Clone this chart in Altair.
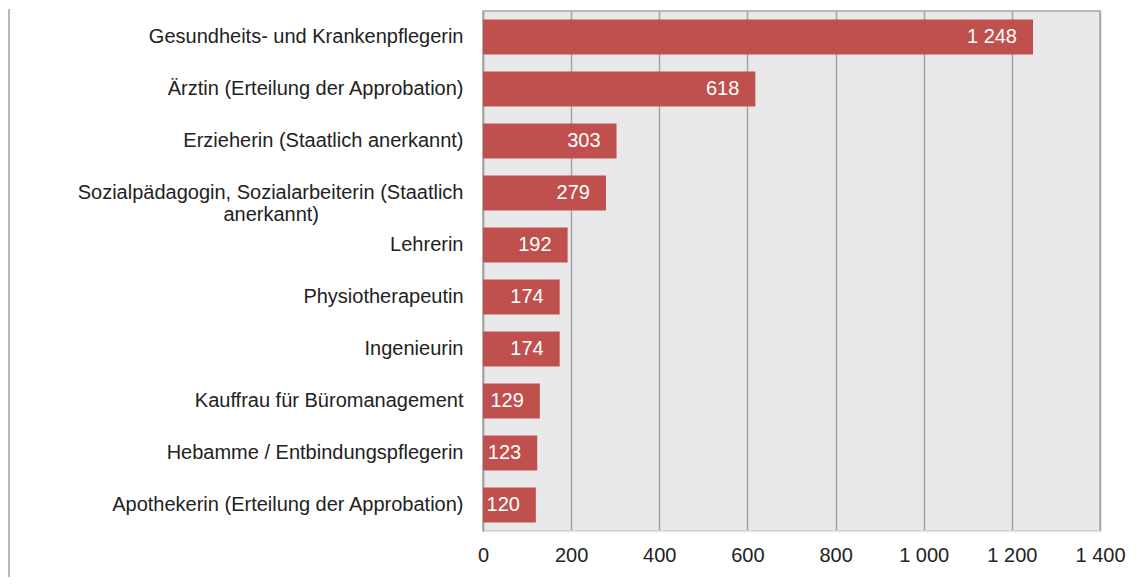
import altair as alt
import pandas as pd

categories = [
    "Gesundheits- und Krankenpflegerin",
    "Ärztin (Erteilung der Approbation)",
    "Erzieherin (Staatlich anerkannt)",
    "Sozialpädagogin, Sozialarbeiterin (Staatlich anerkannt)",
    "Lehrerin",
    "Physiotherapeutin",
    "Ingenieurin",
    "Kauffrau für Büromanagement",
    "Hebamme / Entbindungspflegerin",
    "Apothekerin (Erteilung der Approbation)",
]
values = [1248, 618, 303, 279, 192, 174, 174, 129, 123, 120]
x_ticks = [0, 200, 400, 600, 800, 1000, 1200, 1400]

df = pd.DataFrame({"beruf": categories, "anzahl": values})
df["label"] = [f"{v:,}".replace(",", " ") for v in values]

W, H = 617, 520
BG = "#e9e9eb"
GRID = "#a6a6a6"
BAR = "#c0504d"
TXT = "#222222"
FONT = "Liberation Sans"

# long labels wrap at their last space; the second line is centred under the first
pad = "\u00a0" * 26 + "\u200b"
y_label_expr = (
    "length(datum.value) > 45 ? "
    "[substring(datum.value, 0, lastindexof(datum.value, ' ')), "
    "substring(datum.value, lastindexof(datum.value, ' ') + 1) + '" + pad + "'] : datum.value"
)

y_enc = alt.Y(
    "beruf:N",
    sort=categories,
    scale=alt.Scale(paddingInner=0.33, paddingOuter=0.165),
    axis=alt.Axis(
        title=None,
        ticks=False,
        domainColor=GRID,
        domainWidth=1.5,
        grid=False,
        labelExpr=y_label_expr,
        labelAlign="right",
        labelPadding=20,
        labelFont=FONT,
        labelFontSize=20,
        labelColor=TXT,
        labelLimit=0,
    ),
)

x_enc = alt.X(
    "anzahl:Q",
    scale=alt.Scale(domain=[0, 1400], nice=False),
    axis=alt.Axis(
        title=None,
        values=x_ticks,
        ticks=False,
        domainColor=BG,
        domainWidth=2,
        grid=True,
        gridColor=GRID,
        gridWidth=1.5,
        labelExpr="replace(format(datum.value, ','), ',', ' ')",
        labelPadding=14,
        labelFont=FONT,
        labelFontSize=20,
        labelColor=TXT,
        labelFlush=False,
    ),
)

base = alt.Chart(df).encode(x=x_enc, y=y_enc)

bars = base.mark_bar(color=BAR)
texts = base.mark_text(
    align="right", baseline="middle", dx=-16, color="white", fontSize=20, font=FONT
).encode(text="label:N")

border = alt.Chart(pd.DataFrame({"a": [0]})).mark_rule(
    color="#a0a0a0", strokeWidth=1.5
).encode(x=alt.value(-474), y=alt.value(-2), y2=alt.value(H + 46))

chart = (
    alt.layer(bars, texts, border)
    .properties(
        width=W,
        height=H,
        padding={"left": 0, "top": 0, "right": 0, "bottom": 0},
        background="white",
    )
    .configure_view(stroke=GRID, strokeWidth=1.5, fill=BG)
)

chart.save("out.html", embed_options={"renderer": "svg", "actions": False})
